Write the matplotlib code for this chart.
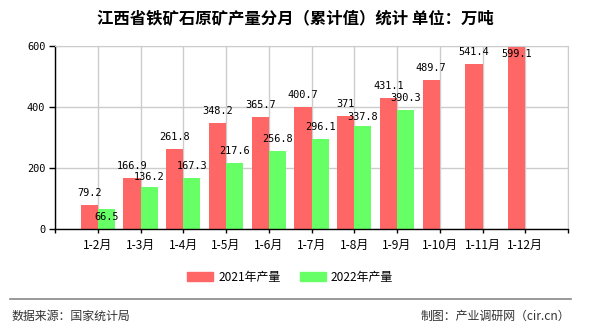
import matplotlib
matplotlib.use('Agg')
import matplotlib.pyplot as plt
from matplotlib.patches import Patch
from matplotlib.lines import Line2D

plt.rcParams['font.family'] = ['Noto Sans CJK SC', 'DejaVu Sans']

# --- data ---
months = ['1-2月', '1-3月', '1-4月', '1-5月', '1-6月', '1-7月',
          '1-8月', '1-9月', '1-10月', '1-11月', '1-12月']
prod_2021 = [79.2, 166.9, 261.8, 348.2, 365.7, 400.7, 371, 431.1, 489.7, 541.4, 599.1]
prod_2022 = [66.5, 136.2, 167.3, 217.6, 256.8, 296.1, 337.8, 390.3]
labels_2021 = ['79.2', '166.9', '261.8', '348.2', '365.7', '400.7', '371',
               '431.1', '489.7', '541.4', '599.1']
labels_2022 = ['66.5', '136.2', '167.3', '217.6', '256.8', '296.1', '337.8', '390.3']

title = '江西省铁矿石原矿产量分月（累计值）统计 单位：万吨'
c_2021 = '#ff6666'
c_2022 = '#66ff66'

fig = plt.figure(figsize=(5.9, 3.3), dpi=100)
ax = fig.add_axes([55 / 590, 1 - 229 / 330, 513 / 590, 183 / 330])

x21 = [i + 1 for i in range(len(prod_2021))]
x22 = [i + 1 for i in range(len(prod_2022))]
w = 0.4
ax.bar([x - w / 2 for x in x21], prod_2021, width=w, color=c_2021, zorder=2)
ax.bar([x + w / 2 for x in x22], prod_2022, width=w, color=c_2022, zorder=2)

# value labels (vertical offset in pixels, a few moved to avoid overlap)
dy21 = {10: -8}
dy22 = {0: -8, 1: 10, 6: 9}
mono = 'DejaVu Sans Mono'
for i, (x, v) in enumerate(zip(x21, prod_2021)):
    ax.annotate(labels_2021[i], (x - w / 2, v), xytext=(0, dy21.get(i, 12)),
                textcoords='offset pixels', ha='center', va='center',
                fontsize=7.4, family=mono, zorder=3)
for i, (x, v) in enumerate(zip(x22, prod_2022)):
    ax.annotate(labels_2022[i], (x + w / 2, v), xytext=(0, dy22.get(i, 12)),
                textcoords='offset pixels', ha='center', va='center',
                fontsize=7.4, family=mono, zorder=3)

ax.set_xlim(0, 12)
ax.set_ylim(0, 600)
ax.set_xticks(range(0, 13))
ax.set_xticklabels([''] + months + [''], fontsize=8.6)
ax.set_yticks([0, 200, 400, 600])
ax.set_yticklabels(['0', '200', '400', '600'], family=mono, fontsize=7.4)
ax.tick_params(axis='x', length=3, width=1, pad=4)
ax.tick_params(axis='y', length=4, width=1, pad=3)
ax.grid(True, color='#cccccc', linewidth=1, zorder=0)
ax.set_axisbelow(True)
for s in ['top', 'right']:
    ax.spines[s].set_color('#cccccc')
for s in ['left', 'bottom']:
    ax.spines[s].set_color('black')
    ax.spines[s].set_linewidth(1)

fig.text(295 / 590, 1 - 18 / 330, title, ha='center', va='center',
         fontsize=11.8, fontweight='bold')

handles = [Patch(color=c_2021, label='2021年产量'), Patch(color=c_2022, label='2022年产量')]
fig.legend(handles=handles, loc='center', bbox_to_anchor=(290 / 590, 1 - 277 / 330),
           ncol=2, frameon=False, fontsize=8.6, handlelength=2.2, handleheight=0.7,
           handletextpad=0.4, columnspacing=1.6)

fig.add_artist(Line2D([10 / 590, 571 / 590], [1 - 298.5 / 330, 1 - 298.5 / 330],
                      color='#888888', linewidth=1.2))
fig.text(11 / 590, 1 - 316 / 330, '数据来源：国家统计局', ha='left', va='center',
         fontsize=8.6, color='#333333')
fig.text(570 / 590, 1 - 316 / 330, '制图：产业调研网（cir.cn）', ha='right', va='center',
         fontsize=8.6, color='#333333')

fig.savefig('out.png', dpi=100)
